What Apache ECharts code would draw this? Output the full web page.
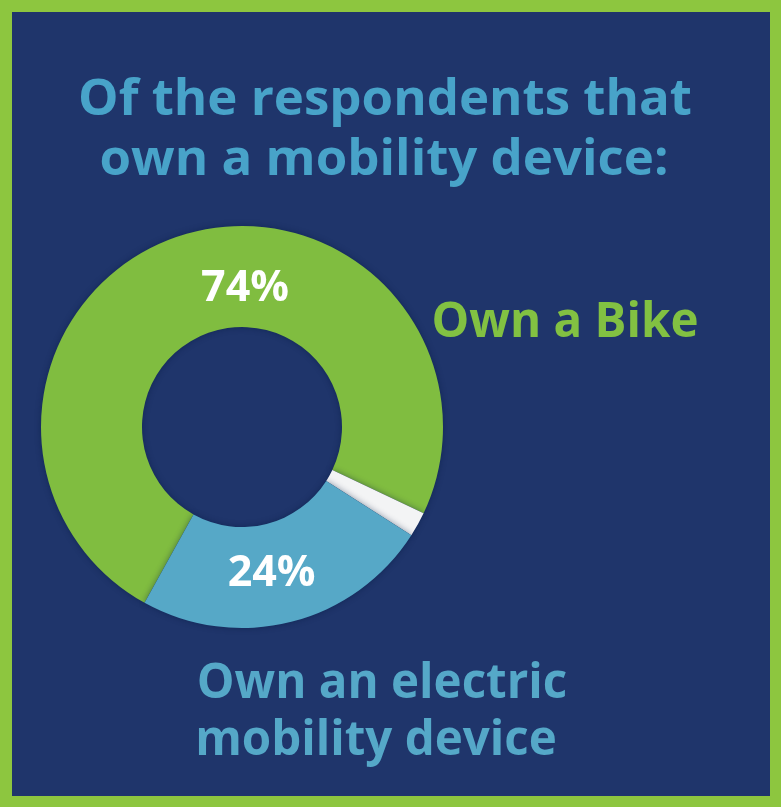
<!DOCTYPE html>
<html>
<head>
<meta charset="utf-8">
<script src="https://cdn.jsdelivr.net/npm/echarts@6/dist/echarts.min.js"></script>
<style>
  html, body { margin: 0; padding: 0; background: #8dc63f; }
  #chart { width: 781px; height: 807px; }
</style>
</head>
<body>
<div id="chart"></div>
<script>
// Ownership split among respondents with a mobility device
const categories = ['Own a Bike', 'Other', 'Own an electric mobility device'];
const shares = [74, 2, 24];
const sliceColors = ['#80bd40', '#f3f4f5', '#56a8c7'];
const showLabel = [true, false, true];

const titleLines = ['Of the respondents that', 'own a mobility device:'];
const bikeCaption = 'Own a Bike';
const electricLines = ['Own an electric', 'mobility device'];

const NAVY = '#1f356b';
const FONT = '"Open Sans", "Noto Sans", sans-serif';

const chart = echarts.init(document.getElementById('chart'), null, { renderer: 'canvas' });

function textEl(x, y, text, size, color) {
  return {
    type: 'text',
    x: x, y: y,
    style: {
      text: text,
      fill: color,
      font: 'bold ' + size + 'px ' + FONT,
      align: 'center',
      verticalAlign: 'middle'
    }
  };
}

const labelShift = [{ dx: 50, dy: 8 }, { dx: 0, dy: 0 }, { dx: -8, dy: -2 }];

chart.setOption({
  backgroundColor: '#8dc63f',
  animation: false,
  graphic: [
    { type: 'rect', z: -10, shape: { x: 12, y: 12, width: 758, height: 784 }, style: { fill: NAVY } },
    textEl(385, 100, titleLines[0], 51, '#48a3c9'),
    textEl(384, 160, titleLines[1], 51, '#48a3c9'),
    textEl(565, 323, bikeCaption, 47.5, '#82c142'),
    textEl(382, 684, electricLines[0], 47.5, '#55a8c8'),
    textEl(376, 741, electricLines[1], 47.5, '#55a8c8')
  ],
  series: [{
    type: 'pie',
    center: [242, 427],
    radius: [100, 201],
    startAngle: 241,
    clockwise: true,
    silent: true,
    itemStyle: {
      shadowBlur: 6,
      shadowColor: 'rgba(5, 25, 60, 0.45)'
    },
    label: {
      show: true,
      position: 'inside',
      color: '#ffffff',
      fontFamily: FONT,
      fontWeight: 'bold',
      fontSize: 43,
      formatter: p => p.value + '%'
    },
    labelLine: { show: false },
    labelLayout: p => labelShift[p.dataIndex],
    data: categories.map((name, i) => ({
      name: name,
      value: shares[i],
      itemStyle: { color: sliceColors[i] },
      label: { show: showLabel[i] }
    }))
  }]
});
</script>
</body>
</html>
